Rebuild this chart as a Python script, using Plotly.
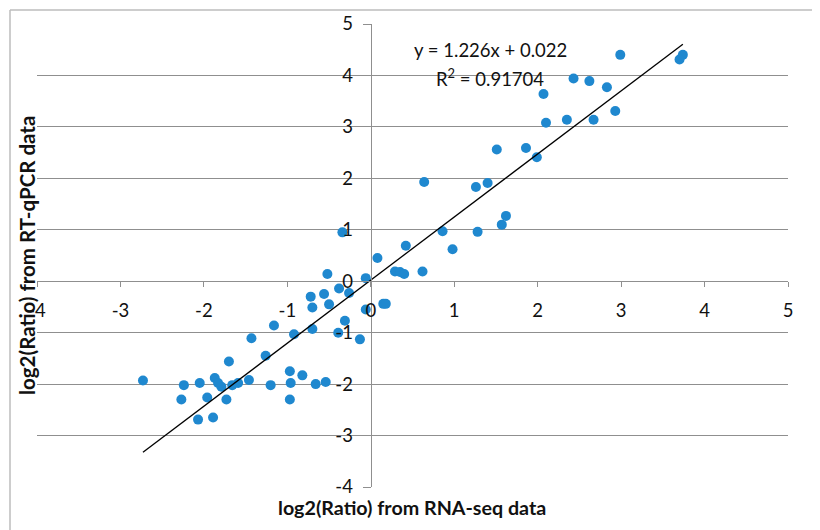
import plotly.graph_objects as go

# RNA-seq log2 ratios (x) and RT-qPCR log2 ratios (y)
rnaseq = [2.99, 3.74, 3.70, 2.43, 2.62, 2.83, 2.07, 2.93, 2.10, 2.35, 2.67, 1.51, 1.86, 1.99,
          1.26, 1.40, 1.62, 1.57, 1.28, 0.64,
          -0.34, 0.08, 0.42, 0.86, 0.98, -0.52, -0.06, 0.29, 0.35, 0.40, 0.62, -0.38, -0.26,
          -0.72, -0.56, -0.70, -0.50, -0.06, 0.15, 0.18, -0.31, -0.70, -0.92, -0.39, -0.13,
          -1.16, -1.43, -1.26, -1.70, -2.73, -2.24, -2.05, -1.87, -1.83, -1.79, -1.66, -1.59,
          -1.46, -1.20, -0.97, -0.82, -0.96, -0.66, -0.54, -2.27, -1.96, -1.73, -0.97, -2.07, -1.89]
qpcr = [4.40, 4.40, 4.31, 3.94, 3.89, 3.77, 3.64, 3.31, 3.08, 3.14, 3.14, 2.56, 2.59, 2.41,
        1.83, 1.91, 1.27, 1.10, 0.96, 1.93,
        0.95, 0.45, 0.69, 0.97, 0.62, 0.14, 0.06, 0.19, 0.18, 0.14, 0.19, -0.14, -0.23,
        -0.30, -0.25, -0.51, -0.45, -0.55, -0.44, -0.44, -0.77, -0.93, -1.03, -1.00, -1.13,
        -0.86, -1.11, -1.45, -1.56, -1.93, -2.02, -1.98, -1.88, -1.98, -2.05, -2.02, -1.98,
        -1.92, -2.02, -1.75, -1.83, -1.98, -2.00, -1.96, -2.30, -2.26, -2.30, -2.30, -2.69, -2.65]

slope = 1.226
intercept = 0.022
r_squared = "0.91704"
tick_values = [-4, -3, -2, -1, 0, 1, 2, 3, 4, 5]
tick_labels = ["-4", "-3", "-2", "-1", "0", "1", "2", "3", "4", "5"]

x_min, x_max = min(rnaseq), max(rnaseq)
trend_x = [x_min, x_max]
trend_y = [slope * v + intercept for v in trend_x]

FONT = "Lato"
GRID = "#8f8f8f"
TXT = 18.5

fig = go.Figure()
fig.add_trace(go.Scatter(x=rnaseq, y=qpcr, mode="markers",
                         marker=dict(color="#1f88cf", size=10), showlegend=False))
fig.add_trace(go.Scatter(x=trend_x, y=trend_y, mode="lines",
                         line=dict(color="black", width=1.3), showlegend=False))

OFF = 8  # page body margin
W, H = 820 - OFF, 530 - OFF
L, R, T, B = 37, 788, 24, 487  # plot area in window pixels


def px(xp):
    return (xp - L) / (R - L)


def py(yp):
    return (B - yp) / (B - T)


fig.update_layout(
    width=W, height=H,
    margin=dict(l=L - OFF, r=W - (R - OFF), t=T - OFF, b=H - (B - OFF), pad=0),
    paper_bgcolor="white", plot_bgcolor="white",
    font=dict(family=FONT, size=TXT, color="#111"),
    xaxis=dict(range=[-4, 5], tickvals=tick_values, ticktext=tick_labels,
               anchor="free", position=4 / 9, automargin=False,
               showline=True, linecolor=GRID, linewidth=1.2, ticks="outside", ticklen=5,
               tickcolor=GRID, showgrid=False, zeroline=False, ticklabelstandoff=7,
               tickfont=dict(size=TXT, family=FONT)),
    yaxis=dict(range=[-4, 5], tickvals=tick_values, ticktext=tick_labels,
               anchor="free", position=4 / 9, automargin=False,
               showline=True, linecolor=GRID, linewidth=1.2, ticks="outside", ticklen=8,
               tickcolor=GRID, showgrid=True, gridcolor=GRID, gridwidth=1.2, zeroline=False,
               ticklabelstandoff=6, tickfont=dict(size=TXT, family=FONT)),
    annotations=[
        dict(text="<b>log2(Ratio) from RNA-seq data</b>", x=px(412), y=py(507),
             xanchor="center", yanchor="middle",
             xref="paper", yref="paper", showarrow=False, font=dict(size=19.7, family=FONT)),
        dict(text="<b>log2(Ratio) from RT-qPCR data</b>", x=px(27), y=py(256), textangle=-90,
             xanchor="center", yanchor="middle",
             xref="paper", yref="paper", showarrow=False, font=dict(size=20.5, family=FONT)),
        dict(text=f"y = {slope}x + {intercept}", x=px(490), y=py(50),
             xanchor="center", yanchor="middle",
             xref="paper", yref="paper", showarrow=False, font=dict(size=TXT, family=FONT)),
        dict(text=f"R<sup>2</sup> = {r_squared}", x=px(490), y=py(77),
             xanchor="center", yanchor="middle",
             xref="paper", yref="paper", showarrow=False, font=dict(size=TXT, family=FONT)),
    ],
    shapes=[
        dict(type="line", xref="paper", yref="paper", x0=px(10), x1=px(830), y0=py(10), y1=py(10),
             line=dict(color="#bdbdbd", width=1.5)),
        dict(type="line", xref="paper", yref="paper", x0=px(10), x1=px(10), y0=py(10), y1=py(540),
             line=dict(color="#bdbdbd", width=1.5)),
    ],
)

fig.write_html("out.html")
